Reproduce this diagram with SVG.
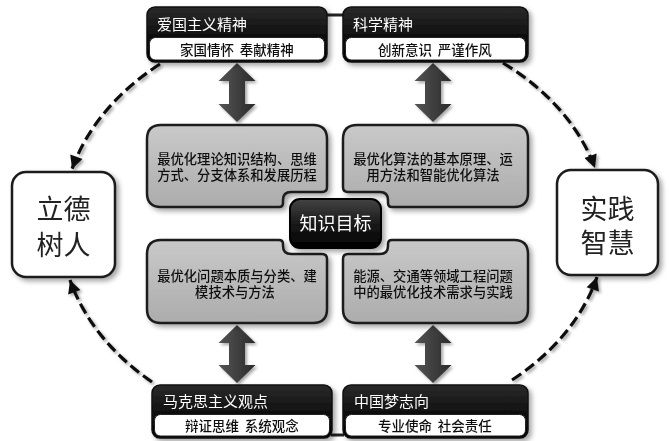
<svg xmlns="http://www.w3.org/2000/svg" width="669" height="441" viewBox="0 0 669 441">
<defs>
<style>
text{font-family:"Liberation Sans","Noto Sans CJK SC",sans-serif}
.hd{fill:url(#hdr);stroke:#111;stroke-width:1.5}
.sub{fill:#fff;stroke:#222;stroke-width:1}
.ht{font-size:15px;fill:#fff;dominant-baseline:central}
.st{font-size:13.5px;fill:#111;text-anchor:middle;dominant-baseline:central;font-weight:500;word-spacing:2px}
.gb{fill:url(#gry);stroke:#1e1e1e;stroke-width:2.5}
.gt{font-size:13.3px;fill:#111;text-anchor:middle;dominant-baseline:central;font-weight:500}
.bb{fill:#fff;stroke:#1a1a1a;stroke-width:2.5}
.bt{font-size:27px;fill:#222;text-anchor:middle;dominant-baseline:central}
.arc{fill:none;stroke:#111;stroke-width:3.2;stroke-dasharray:11 5;marker-end:url(#ah)}
.dbl{fill:url(#arr)}
.ln{stroke:#222;stroke-width:3}
</style>
<linearGradient id="hdr" x1="0" y1="0" x2="0" y2="1"><stop offset="0" stop-color="#2a2a2a"/><stop offset="0.6" stop-color="#0c0c0c"/><stop offset="1" stop-color="#000"/></linearGradient>
<linearGradient id="gry" x1="0" y1="0" x2="0" y2="1"><stop offset="0" stop-color="#c9c9c9"/><stop offset="1" stop-color="#acacac"/></linearGradient>
<linearGradient id="ctr" x1="0" y1="0" x2="0" y2="1"><stop offset="0" stop-color="#444"/><stop offset="0.5" stop-color="#1a1a1a"/><stop offset="1" stop-color="#000"/></linearGradient>
<linearGradient id="arr" x1="0" y1="0" x2="1" y2="0"><stop offset="0" stop-color="#555"/><stop offset="1" stop-color="#2a2a2a"/></linearGradient>
<filter id="sh" x="-20%" y="-20%" width="150%" height="150%"><feDropShadow dx="3" dy="3" stdDeviation="2.5" flood-color="#000" flood-opacity="0.35"/></filter>
<filter id="dsh" x="-20%" y="-20%" width="140%" height="140%"><feDropShadow dx="2" dy="2" stdDeviation="1.5" flood-color="#000" flood-opacity="0.35"/></filter>
<marker id="ah" viewBox="0 0 10 10" refX="10" refY="5" markerUnits="userSpaceOnUse" markerWidth="14" markerHeight="13" orient="auto"><path d="M0,0 L10,5 L0,10 z" fill="#111"/></marker>
</defs>
<rect width="669" height="441" fill="#fff"/>

<g id="connectors">
<g filter="url(#dsh)">
<path class="arc" d="M160,64 A275,210 0 0 0 72,169"/>
<path class="arc" d="M152,382 A275,210 0 0 1 70,280"/>
<path class="arc" d="M503,63 A268,204 0 0 1 595,168"/>
<path class="arc" d="M512,380 A268,204 0 0 0 597,277"/>
</g>
<line class="ln" x1="326" y1="15" x2="344" y2="15"/>
<line class="ln" x1="331" y1="435" x2="344" y2="435"/>
<g filter="url(#dsh)">
<path class="dbl" d="M237,63 L255.5,81 H245 V104 H255.5 L237,122 L218.5,104 H229 V81 H218.5 Z"/>
<path class="dbl" d="M433,63 L451.5,81 H441 V104 H451.5 L433,122 L414.5,104 H425 V81 H414.5 Z"/>
<path class="dbl" d="M237,325 L255.5,343 H245 V365 H255.5 L237,383 L218.5,365 H229 V343 H218.5 Z"/>
<path class="dbl" d="M433,325 L451.5,343 H441 V365 H451.5 L433,383 L414.5,365 H425 V343 H414.5 Z"/>
</g>
</g>

<g id="n-aiguo" filter="url(#sh)">
<rect class="hd" x="147" y="7" width="180" height="55" rx="8"/>
<rect class="sub" x="149.5" y="37.5" width="175" height="22.5" rx="6"/>
<text class="ht" x="157" y="24">爱国主义精神</text>
<text class="st" x="237" y="50">家国情怀 奉献精神</text>
</g>
<g id="n-kexue" filter="url(#sh)">
<rect class="hd" x="343" y="7" width="185" height="55" rx="8"/>
<rect class="sub" x="345.5" y="37.5" width="180" height="22.5" rx="6"/>
<text class="ht" x="353" y="24">科学精神</text>
<text class="st" x="435" y="50">创新意识 严谨作风</text>
</g>
<g id="n-makesi" filter="url(#sh)">
<rect class="hd" x="152" y="385" width="180" height="53" rx="8"/>
<rect class="sub" x="154.5" y="414.5" width="175" height="21.5" rx="6"/>
<text class="ht" x="163" y="401">马克思主义观点</text>
<text class="st" x="242" y="426">辩证思维 系统观念</text>
</g>
<g id="n-zhongguo" filter="url(#sh)">
<rect class="hd" x="343" y="385" width="185" height="53" rx="8"/>
<rect class="sub" x="345.5" y="414.5" width="180" height="21.5" rx="6"/>
<text class="ht" x="354" y="401">中国梦志向</text>
<text class="st" x="435" y="426">专业使命 社会责任</text>
</g>

<g id="n-q1" filter="url(#sh)">
<path class="gb" d="M161,125 H313 Q327,125 327,139 V187 Q327,192 322,192 H291 Q283,192 283,200 V203 Q283,207 279,207 H161 Q147,207 147,193 V139 Q147,125 161,125 Z"/>
<text class="gt"><tspan x="237" y="158.5">最优化理论知识结构、思维</tspan><tspan x="237" y="175">方式、分支体系和发展历程</tspan></text>
</g>
<g id="n-q2" filter="url(#sh)">
<path class="gb" d="M357,125 H514 Q528,125 528,139 V193 Q528,207 514,207 H392 Q388,207 388,203 V200 Q388,192 380,192 H348 Q343,192 343,187 V139 Q343,125 357,125 Z"/>
<text class="gt"><tspan x="433" y="158.5">最优化算法的基本原理、运</tspan><tspan x="433" y="175">用方法和智能优化算法</tspan></text>
</g>
<g id="n-q3" filter="url(#sh)">
<path class="gb" d="M161,240 H279 Q283,240 283,244 V246 Q283,254 291,254 H322 Q327,254 327,259 V309 Q327,323 313,323 H161 Q147,323 147,309 V254 Q147,240 161,240 Z"/>
<text class="gt"><tspan x="237" y="275.5">最优化问题本质与分类、建</tspan><tspan x="235" y="292">模技术与方法</tspan></text>
</g>
<g id="n-q4" filter="url(#sh)">
<path class="gb" d="M392,240 H514 Q528,240 528,254 V309 Q528,323 514,323 H357 Q343,323 343,309 V259 Q343,254 348,254 H380 Q388,254 388,246 V244 Q388,240 392,240 Z"/>
<text class="gt"><tspan x="433" y="275.5">能源、交通等领域工程问题</tspan><tspan x="433" y="292">中的最优化技术需求与实践</tspan></text>
</g>

<g id="n-center" filter="url(#sh)">
<rect x="290" y="199" width="91" height="49" rx="10" fill="url(#ctr)" stroke="#000" stroke-width="2"/>
<text x="335.5" y="223.5" font-size="18" fill="#fff" text-anchor="middle" dominant-baseline="central">知识目标</text>
</g>

<g id="n-lide" filter="url(#sh)">
<rect class="bb" x="12" y="172" width="103" height="105" rx="14"/>
<text class="bt"><tspan x="63.5" y="210">立德</tspan><tspan x="63.5" y="246">树人</tspan></text>
</g>
<g id="n-shijian" filter="url(#sh)">
<rect class="bb" x="557" y="170" width="101" height="105" rx="14"/>
<text class="bt"><tspan x="607.5" y="210">实践</tspan><tspan x="607.5" y="244">智慧</tspan></text>
</g>
</svg>
